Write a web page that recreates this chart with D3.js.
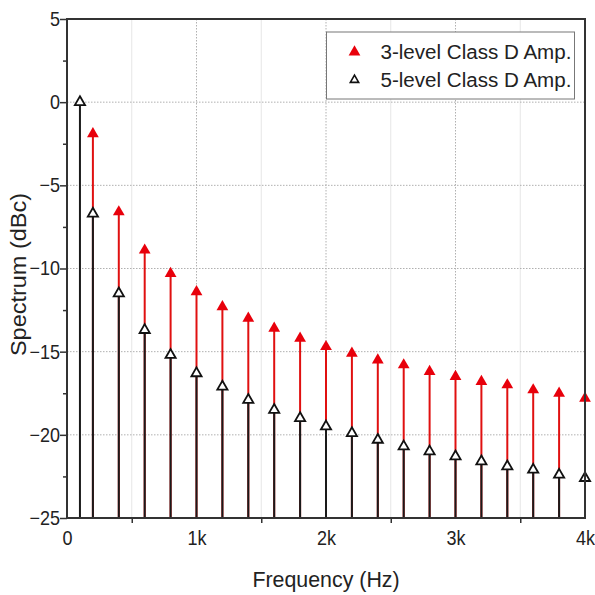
<!DOCTYPE html>
<html>
<head>
<meta charset="utf-8">
<script src="https://cdn.jsdelivr.net/npm/d3@7"></script>
<style>
  body { margin: 0; background: #fff; }
  svg { display: block; font-family: "Liberation Sans", Arial, sans-serif; }
</style>
</head>
<body>
<div id="chart"></div>
<script>
// 数据
const freq3 = [200, 400, 600, 800, 1000, 1200, 1400, 1600, 1800, 2000, 2200, 2400, 2600, 2800, 3000, 3200, 3400, 3600, 3800, 4000];
const level3 = [-1.9, -6.6, -8.9, -10.3, -11.4, -12.3, -13.0, -13.6, -14.2, -14.7, -15.1, -15.5, -15.8, -16.2, -16.5, -16.8, -17.0, -17.3, -17.5, -17.8];
const freq5 = [100, 200, 400, 600, 800, 1000, 1200, 1400, 1600, 1800, 2000, 2200, 2400, 2600, 2800, 3000, 3200, 3400, 3600, 3800, 4000];
const level5 = [0, -6.7, -11.5, -13.7, -15.2, -16.3, -17.1, -17.9, -18.5, -19.0, -19.5, -19.9, -20.3, -20.7, -21.0, -21.3, -21.6, -21.9, -22.1, -22.4, -22.6];
const xTicks = [0, 1000, 2000, 3000, 4000];
const xTickLabels = ['0', '1k', '2k', '3k', '4k'];
const yTicks = [5, 0, -5, -10, -15, -20, -25];
const legendNames = ['3-level Class D Amp.', '5-level Class D Amp.'];

const W = 595, H = 595;
const margin = { top: 19, right: 10, bottom: 77, left: 67 };
const iw = W - margin.left - margin.right;
const ih = H - margin.top - margin.bottom;
// 文字略微压窄
const squeeze = 'scale(0.9,1)';

const svg = d3.select('#chart').append('svg')
  .attr('width', W).attr('height', H);
const g = svg.append('g')
  .attr('transform', `translate(${margin.left},${margin.top})`);

const x = d3.scaleLinear().domain([0, 4000]).range([0, iw]);
const y = d3.scaleLinear().domain([-25, 5]).range([ih, 0]);

// 网格
const minorX = d3.range(500, 4000, 1000);
g.append('g').selectAll('line').data(minorX).join('line')
  .attr('x1', d => x(d)).attr('x2', d => x(d))
  .attr('y1', 0).attr('y2', ih)
  .attr('stroke', '#e6e6e6').attr('stroke-width', 1);
g.append('g').selectAll('line').data(xTicks.slice(1, -1)).join('line')
  .attr('x1', d => x(d)).attr('x2', d => x(d))
  .attr('y1', 0).attr('y2', ih)
  .attr('stroke', '#b0b0b0').attr('stroke-width', 1).attr('stroke-dasharray', '1.5,1.5');
g.append('g').selectAll('line').data(yTicks.slice(1, -1)).join('line')
  .attr('x1', 0).attr('x2', iw)
  .attr('y1', d => y(d)).attr('y2', d => y(d))
  .attr('stroke', '#b0b0b0').attr('stroke-width', 1).attr('stroke-dasharray', '1.5,1.5');

// 坐标轴
const xAxis = g.append('g')
  .attr('transform', `translate(0,${ih})`)
  .call(d3.axisBottom(x).tickValues(xTicks).tickFormat((d, i) => xTickLabels[i]).tickSize(0).tickPadding(9));
const xMinor = g.append('g')
  .attr('transform', `translate(0,${ih})`)
  .call(d3.axisBottom(x).tickValues(minorX).tickFormat('').tickSize(5));
const yAxis = g.append('g')
  .call(d3.axisLeft(y).tickValues(yTicks).tickFormat(d3.format('d')).tickSize(7).tickPadding(0));
const yMinor = g.append('g')
  .call(d3.axisLeft(y).tickValues(d3.range(-22.5, 5, 5)).tickFormat('').tickSize(4));
[xAxis, xMinor, yAxis, yMinor].forEach(a => {
  a.select('.domain').remove();
  a.selectAll('.tick line').attr('stroke', '#333').attr('stroke-width', 1.5);
  a.selectAll('text').attr('font-size', 20).attr('fill', '#222')
    .attr('font-family', '"Liberation Sans", Arial, sans-serif');
});
xAxis.selectAll('text').attr('dy', '0.9em').attr('transform', squeeze);
yAxis.selectAll('text').attr('transform', 'translate(-7,0) ' + squeeze).attr('x', null);

// 茎线
const stems3 = freq3.map((f, i) => ({ f, v: level3[i] }));
const stems5 = freq5.map((f, i) => ({ f, v: level5[i] }));

g.append('g').selectAll('line').data(stems3).join('line')
  .attr('x1', d => x(d.f)).attr('x2', d => x(d.f))
  .attr('y1', ih).attr('y2', d => y(d.v))
  .attr('stroke', '#e01010').attr('stroke-width', 2);
g.append('g').selectAll('line').data(stems5).join('line')
  .attr('x1', d => x(d.f)).attr('x2', d => x(d.f))
  .attr('y1', ih).attr('y2', d => y(d.v))
  .attr('stroke', '#1a1a1a').attr('stroke-width', 2);

const tri = d3.symbol().type(d3.symbolTriangle);
g.append('g').selectAll('path').data(stems3).join('path')
  .attr('transform', d => `translate(${x(d.f)},${y(d.v)})`)
  .attr('d', tri.size(60))
  .attr('fill', '#e8000b');
g.append('g').selectAll('path').data(stems5).join('path')
  .attr('transform', d => `translate(${x(d.f)},${y(d.v)})`)
  .attr('d', tri.size(45))
  .attr('fill', '#fff').attr('stroke', '#111').attr('stroke-width', 1.8);

// 边框
g.append('rect')
  .attr('width', iw).attr('height', ih)
  .attr('fill', 'none').attr('stroke', '#333').attr('stroke-width', 2);

// 图例
const lg = g.append('g').attr('transform', `translate(${x(2000) + 0.5},${13})`);
lg.append('rect')
  .attr('width', 248).attr('height', 67)
  .attr('fill', '#fff').attr('stroke', '#777').attr('stroke-width', 1);
legendNames.forEach((name, i) => {
  const row = lg.append('g').attr('transform', `translate(0,${20 + i * 28})`);
  row.append('path')
    .attr('transform', 'translate(28,0)')
    .attr('d', tri.size(i === 0 ? 60 : 30))
    .attr('fill', i === 0 ? '#e8000b' : '#fff')
    .attr('stroke', i === 0 ? 'none' : '#111')
    .attr('stroke-width', 1.6);
  row.append('text')
    .attr('transform', 'translate(54,0) scale(0.98,1)')
    .attr('dy', '0.35em')
    .attr('font-size', 21).attr('fill', '#222')
    .text(name);
});

// 轴标题
svg.append('text')
  .attr('transform', `translate(${margin.left + iw / 2},587) scale(0.93,1)`)
  .attr('text-anchor', 'middle')
  .attr('font-size', 23).attr('fill', '#222')
  .text('Frequency (Hz)');
svg.append('text')
  .attr('transform', `translate(26,${margin.top + ih / 2 + 6}) rotate(-90) scale(1,0.92)`)
  .attr('text-anchor', 'middle')
  .attr('font-size', 23.5).attr('fill', '#222')
  .text('Spectrum (dBc)');
</script>
</body>
</html>
